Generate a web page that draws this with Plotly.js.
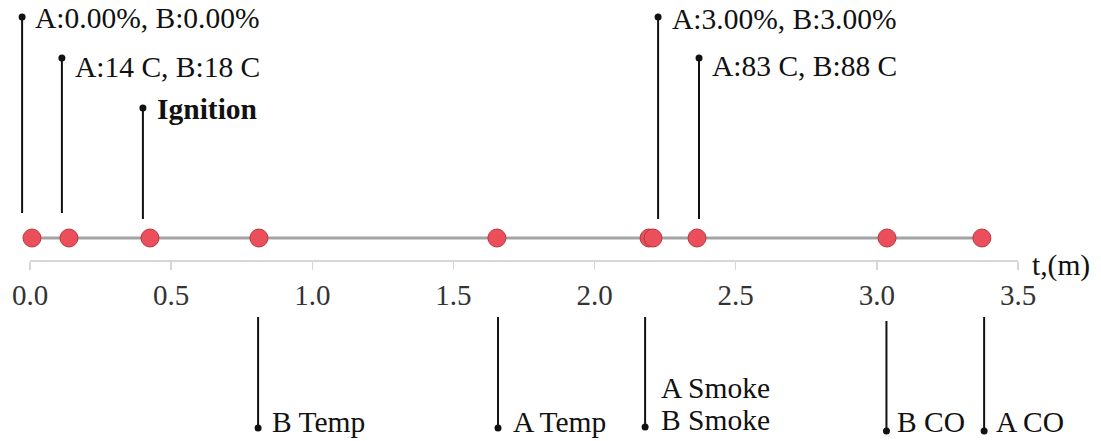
<!DOCTYPE html>
<html>
<head>
<meta charset="utf-8">
<script src="https://cdn.plot.ly/plotly-3.0.1.min.js"></script>
<style>
  html, body { margin: 0; padding: 0; background: #fff; }
  #chart { width: 1101px; height: 441px; }
</style>
</head>
<body>
<div id="chart"></div>
<script>
// ---- Data ----
const eventTimes = [0.007, 0.138, 0.425, 0.811, 1.654, 2.193, 2.207, 2.363, 3.036, 3.372];

const topTimes  = [-0.028, 0.113, 0.400, 2.225, 2.370];
const topLabels = ['A:0.00%, B:0.00%', 'A:14 C, B:18 C', '<b>Ignition</b>', 'A:3.00%, B:3.00%', 'A:83 C, B:88 C'];

const bottomTimes  = [0.808, 1.658, 2.179, 3.034, 3.380];
const bottomLabels = ['B Temp', 'A Temp', 'A Smoke|B Smoke', 'B CO', 'A CO'];

const tickValues = [0, 0.5, 1.0, 1.5, 2.0, 2.5, 3.0, 3.5];
const tickLabels = ['0.0', '0.5', '1.0', '1.5', '2.0', '2.5', '3.0', '3.5'];
const axisLabel = 't,(m)';

// ---- Layout / style (vertical positions in a 0..441 frame, top = 0) ----
const H = 441;
const DOT_Y = 238;
const AXIS_Y = 261;
const topTipY   = [17, 58, 108, 17, 58];
const topBaseY  = [213, 213, 219, 219, 219];
const topTextDy = [1, 9, 1, 2, 8];
const topTextDx = [11, 11, 12, 12, 11];
const botStartY = [317, 317, 317, 321, 317];
const botTipY   = [428, 428, 427, 431, 431];
const botTextDy = [-6, -6, -7, -9, -9];
const botTextDx = [12, 13, 14, 9, 10];
const LINE_GAP = 32;

const serif = '"Liberation Serif", "Times New Roman", serif';
const textFont = { family: serif, size: 29.5, color: '#111' };

const traces = [];

// main timeline line with event dots
traces.push({
  x: eventTimes,
  y: eventTimes.map(() => DOT_Y),
  mode: 'lines+markers',
  line: { color: '#a3a3a3', width: 3 },
  marker: { size: 18, color: '#ea4f5b', line: { color: '#b8363f', width: 1 } },
  hoverinfo: 'x',
  cliponaxis: false
});

// stems
function stemTrace(times, y0s, y1s) {
  const xs = [], ys = [];
  times.forEach((t, i) => { xs.push(t, t, null); ys.push(y0s[i], y1s[i], null); });
  return { x: xs, y: ys, mode: 'lines', line: { color: '#111', width: 2 }, hoverinfo: 'skip', cliponaxis: false };
}
traces.push(stemTrace(topTimes, topBaseY, topTipY));
traces.push(stemTrace(bottomTimes, botStartY, botTipY));

// stem tip dots
traces.push({
  x: topTimes.concat(bottomTimes),
  y: topTipY.concat(botTipY),
  mode: 'markers',
  marker: { size: 7, color: '#111' },
  hoverinfo: 'skip',
  cliponaxis: false
});

const annotations = [];
topTimes.forEach((t, i) => {
  annotations.push({
    x: t, y: topTipY[i] + topTextDy[i], xref: 'x', yref: 'y',
    text: topLabels[i], showarrow: false, xanchor: 'left', yanchor: 'middle',
    xshift: topTextDx[i], font: textFont
  });
});
bottomTimes.forEach((t, i) => {
  const lines = bottomLabels[i].split('|');
  lines.forEach((ln, k) => {
    const offset = (lines.length - 1 - k) * LINE_GAP;
    annotations.push({
      x: t, y: botTipY[i] + botTextDy[i] - offset, xref: 'x', yref: 'y',
      text: ln, showarrow: false, xanchor: 'left', yanchor: 'middle',
      xshift: botTextDx[i], font: textFont
    });
  });
});
annotations.push({
  x: tickValues[tickValues.length - 1], y: AXIS_Y + 4, xref: 'x', yref: 'y',
  text: axisLabel, showarrow: false, xanchor: 'left', yanchor: 'middle',
  xshift: 12, font: textFont
});

// x mapping: 0 -> 30px, 3.5 -> 1018px across full width
const pxPerUnit = (1018 - 30) / 3.5;
const xMin = -30 / pxPerUnit;
const xMax = xMin + 1101 / pxPerUnit;

const layout = {
  width: 1101, height: 441,
  margin: { l: 0, r: 0, t: 0, b: 0 },
  paper_bgcolor: '#fff', plot_bgcolor: '#fff',
  showlegend: false,
  font: { family: serif },
  xaxis: {
    range: [xMin, xMax],
    anchor: 'free', position: (H - AXIS_Y) / H,
    showgrid: false, zeroline: false, showline: false,
    tickmode: 'array', tickvals: tickValues, ticktext: tickLabels,
    ticks: 'outside', ticklen: 8, tickwidth: 1.5, tickcolor: '#d6d6d6',
    tickfont: { family: serif, size: 29, color: '#333' },
    ticklabelstandoff: 0,
    fixedrange: true
  },
  yaxis: {
    range: [H, 0], visible: false, showgrid: false, zeroline: false, fixedrange: true
  },
  shapes: [{
    type: 'line', xref: 'x', yref: 'y',
    x0: tickValues[0], x1: tickValues[tickValues.length - 1], y0: AXIS_Y, y1: AXIS_Y,
    line: { color: '#d6d6d6', width: 2 }, layer: 'below'
  }],
  annotations: annotations
};

Plotly.newPlot('chart', traces, layout, { staticPlot: true, displayModeBar: false });
</script>
</body>
</html>
